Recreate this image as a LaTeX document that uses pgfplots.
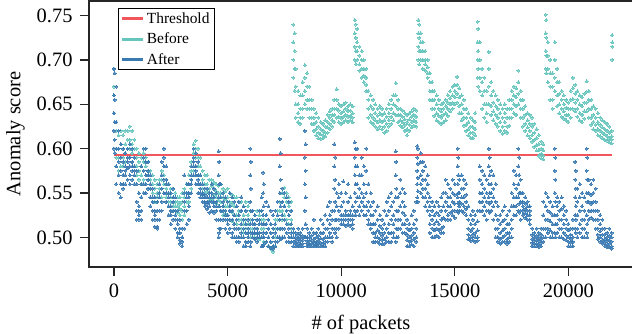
\documentclass[border=0pt]{standalone}
\usepackage{pgfplots}
\pgfplotsset{compat=1.18}
\usepackage{pgfplotstable}
\usepackage{fontspec}
\setmainfont{Liberation Serif}
\definecolor{thr}{HTML}{F0565C}
\definecolor{bef}{HTML}{66C5BD}
\definecolor{aft}{HTML}{3A7AB3}
\definecolor{spine}{HTML}{262626}

\pgfplotstableread{
x a b c d
0 0.69 0.67 0.66 0.64
100 0.62 0.60 0.59 0.58
200 0.615 0.60 0.59 0.575
300 0.62 0.605 0.59 0.58
400 0.615 0.60 0.59 0.58
500 0.62 0.605 0.595 0.585
600 0.62 0.61 0.60 0.59
700 0.625 0.61 0.60 0.59
800 0.62 0.605 0.595 0.585
900 0.61 0.60 0.59 0.58
1000 0.60 0.59 0.58 0.57
1100 0.595 0.585 0.575 0.565
1200 0.59 0.58 0.57 0.56
1300 0.595 0.585 0.575 0.565
1400 0.60 0.59 0.58 0.57
1500 0.585 0.575 0.565 0.555
1600 0.575 0.565 0.555 0.545
1700 0.57 0.56 0.55 0.54
1800 0.565 0.555 0.545 0.54
1900 0.56 0.55 0.545 0.54
2000 0.565 0.555 0.55 0.545
2100 0.575 0.565 0.555 0.545
2200 0.58 0.57 0.56 0.55
2300 0.565 0.555 0.545 0.54
2400 0.56 0.55 0.54 0.535
2500 0.555 0.545 0.54 0.53
2600 0.555 0.545 0.535 0.53
2700 0.55 0.54 0.535 0.53
2800 0.545 0.54 0.535 0.528
2900 0.545 0.538 0.532 0.525
3000 0.55 0.54 0.53 0.52
3100 0.555 0.545 0.535 0.525
3200 0.56 0.55 0.54 0.53
3300 0.57 0.56 0.55 0.54
3400 0.585 0.575 0.565 0.555
3500 0.605 0.595 0.585 0.575
3600 0.609 0.60 0.59 0.58
3700 0.60 0.59 0.58 0.57
3800 0.59 0.58 0.57 0.56
3900 0.575 0.565 0.555 0.545
4000 0.57 0.56 0.55 0.545
4100 0.57 0.56 0.552 0.545
4200 0.565 0.555 0.55 0.542
4300 0.565 0.558 0.55 0.543
4400 0.562 0.555 0.548 0.54
4500 0.56 0.552 0.545 0.538
4600 0.558 0.55 0.542 0.535
4700 0.56 0.55 0.54 0.53
4800 0.555 0.545 0.535 0.525
4900 0.552 0.543 0.535 0.527
5000 0.555 0.545 0.535 0.525
5100 0.55 0.54 0.53 0.52
5200 0.548 0.538 0.528 0.518
5300 0.545 0.535 0.525 0.515
5400 0.545 0.535 0.525 0.515
5500 0.54 0.53 0.52 0.51
5600 0.54 0.53 0.52 0.51
5700 0.535 0.525 0.515 0.505
5800 0.54 0.53 0.52 0.51
5900 0.535 0.525 0.515 0.505
6000 0.53 0.52 0.51 0.50
6100 0.53 0.52 0.51 0.50
6200 0.525 0.515 0.505 0.50
6300 0.53 0.52 0.51 0.50
6400 0.525 0.515 0.505 0.498
6500 0.53 0.52 0.51 0.50
6600 0.52 0.51 0.50 0.495
6700 0.525 0.515 0.505 0.495
6800 0.52 0.51 0.50 0.49
6900 0.515 0.505 0.495 0.487
7000 0.51 0.50 0.49 0.484
7100 0.52 0.51 0.50 0.49
7200 0.53 0.52 0.51 0.50
7300 0.54 0.53 0.52 0.51
7400 0.55 0.54 0.53 0.52
7500 0.556 0.545 0.535 0.525
7600 0.55 0.54 0.53 0.52
7700 0.545 0.535 0.525 0.515
7800 0.54 0.53 0.52 0.51
7900 0.74 0.72 0.70 0.68
7950 0.73 0.71 0.69 0.665
8000 0.69 0.67 0.65 0.635
8100 0.665 0.65 0.64 0.63
8200 0.66 0.645 0.635 0.628
8300 0.675 0.66 0.645 0.635
8400 0.694 0.68 0.665 0.65
8500 0.685 0.67 0.655 0.645
8600 0.67 0.655 0.645 0.635
8700 0.655 0.645 0.635 0.628
8800 0.645 0.635 0.628 0.62
8900 0.64 0.63 0.622 0.615
9000 0.635 0.625 0.618 0.612
9100 0.63 0.622 0.616 0.611
9200 0.628 0.62 0.615 0.612
9300 0.632 0.625 0.618 0.614
9400 0.638 0.63 0.624 0.618
9500 0.642 0.635 0.628 0.622
9600 0.645 0.638 0.632 0.625
9700 0.655 0.645 0.638 0.63
9800 0.667 0.655 0.645 0.635
9900 0.65 0.643 0.636 0.63
10000 0.648 0.64 0.634 0.628
10100 0.65 0.642 0.636 0.63
10200 0.652 0.645 0.638 0.632
10300 0.648 0.642 0.636 0.63
10400 0.65 0.643 0.637 0.632
10500 0.648 0.64 0.635 0.63
10600 0.745 0.73 0.715 0.70
10650 0.74 0.725 0.71 0.695
10700 0.735 0.72 0.71 0.70
10800 0.715 0.705 0.695 0.688
10900 0.71 0.70 0.69 0.68
11000 0.70 0.69 0.682 0.675
11100 0.69 0.68 0.672 0.665
11200 0.665 0.655 0.645 0.635
11300 0.66 0.648 0.638 0.63
11400 0.655 0.645 0.635 0.628
11500 0.65 0.64 0.632 0.625
11600 0.645 0.637 0.63 0.622
11700 0.648 0.64 0.632 0.625
11800 0.645 0.638 0.63 0.622
11900 0.64 0.632 0.625 0.618
12000 0.645 0.636 0.628 0.62
12100 0.65 0.64 0.632 0.625
12200 0.655 0.645 0.636 0.628
12300 0.66 0.65 0.64 0.632
12400 0.674 0.66 0.648 0.638
12500 0.655 0.645 0.638 0.63
12600 0.645 0.638 0.632 0.626
12700 0.643 0.636 0.63 0.624
12800 0.64 0.633 0.627 0.62
12900 0.638 0.63 0.622 0.615
13000 0.64 0.633 0.627 0.62
13100 0.642 0.636 0.63 0.624
13200 0.645 0.638 0.632 0.626
13300 0.643 0.636 0.63 0.625
13400 0.745 0.73 0.715 0.70
13430 0.74 0.725 0.71 0.695
13500 0.73 0.72 0.71 0.70
13600 0.72 0.71 0.70 0.69
13700 0.71 0.70 0.695 0.688
13800 0.70 0.692 0.685 0.68
13900 0.685 0.675 0.665 0.655
14000 0.675 0.665 0.655 0.645
14100 0.665 0.655 0.645 0.637
14200 0.66 0.65 0.64 0.632
14300 0.655 0.645 0.637 0.63
14400 0.65 0.642 0.635 0.628
14500 0.652 0.645 0.638 0.63
14600 0.655 0.648 0.64 0.632
14700 0.66 0.652 0.645 0.637
14800 0.665 0.657 0.65 0.642
14900 0.67 0.66 0.652 0.645
15000 0.672 0.665 0.658 0.65
15100 0.681 0.672 0.662 0.652
15200 0.668 0.658 0.648 0.64
15300 0.66 0.65 0.64 0.632
15400 0.655 0.645 0.635 0.626
15500 0.645 0.635 0.627 0.62
15600 0.64 0.63 0.622 0.615
15700 0.635 0.625 0.618 0.612
15800 0.632 0.624 0.618 0.612
15900 0.64 0.63 0.622 0.615
16000 0.743 0.72 0.70 0.68
16030 0.735 0.71 0.69 0.67
16100 0.72 0.70 0.68 0.665
16200 0.69 0.675 0.66 0.645
16300 0.68 0.665 0.65 0.635
16400 0.665 0.65 0.64 0.63
16500 0.709 0.69 0.67 0.65
16600 0.675 0.66 0.648 0.638
16700 0.665 0.652 0.642 0.632
16800 0.66 0.648 0.638 0.628
16900 0.655 0.645 0.635 0.625
17000 0.65 0.64 0.63 0.62
17100 0.645 0.635 0.625 0.617
17200 0.65 0.64 0.63 0.62
17300 0.645 0.635 0.625 0.618
17400 0.655 0.645 0.635 0.626
17500 0.665 0.655 0.645 0.635
17600 0.67 0.66 0.65 0.64
17700 0.668 0.658 0.648 0.638
17800 0.688 0.675 0.662 0.65
17900 0.665 0.655 0.645 0.635
18000 0.655 0.645 0.635 0.625
18100 0.648 0.638 0.628 0.62
18200 0.64 0.632 0.624 0.615
18300 0.638 0.628 0.62 0.612
18400 0.635 0.625 0.615 0.608
18500 0.628 0.618 0.61 0.602
18600 0.622 0.612 0.604 0.598
18700 0.615 0.605 0.598 0.592
18800 0.608 0.60 0.594 0.589
18900 0.605 0.598 0.592 0.588
19000 0.751 0.73 0.71 0.69
19030 0.745 0.725 0.705 0.685
19100 0.72 0.705 0.69 0.675
19200 0.70 0.685 0.67 0.655
19300 0.685 0.67 0.655 0.645
19400 0.72 0.70 0.68 0.665
19500 0.69 0.675 0.66 0.648
19600 0.675 0.662 0.65 0.64
19700 0.665 0.655 0.645 0.636
19800 0.66 0.65 0.642 0.634
19900 0.655 0.646 0.638 0.632
20000 0.652 0.645 0.638 0.63
20100 0.665 0.655 0.645 0.635
20200 0.68 0.668 0.656 0.645
20300 0.672 0.662 0.652 0.642
20400 0.665 0.655 0.645 0.636
20500 0.66 0.65 0.64 0.632
20600 0.658 0.648 0.638 0.63
20700 0.662 0.652 0.642 0.634
20800 0.676 0.664 0.652 0.642
20900 0.665 0.655 0.645 0.635
21000 0.655 0.645 0.635 0.627
21100 0.648 0.638 0.63 0.622
21200 0.645 0.635 0.627 0.62
21300 0.64 0.63 0.622 0.615
21400 0.635 0.627 0.62 0.614
21500 0.632 0.624 0.618 0.612
21600 0.63 0.622 0.616 0.61
21700 0.628 0.62 0.614 0.609
21800 0.625 0.618 0.612 0.607
21900 0.62 0.614 0.61 0.606
21930 0.728 0.72 0.715 0.70
}\beforetab

\pgfplotstableread{
x a b c d e
0 0.69 0.66 0.64 0.62 0.60
30 0.685 0.655 0.63 0.61 0.595
100 0.67 0.63 0.60 0.58 0.56
200 0.62 0.60 0.585 0.57 0.55
300 0.605 0.59 0.575 0.56 0.545
400 0.60 0.585 0.57 0.555 0.56
500 0.595 0.58 0.57 0.56 0.575
600 0.60 0.59 0.578 0.565 0.585
700 0.605 0.59 0.58 0.57 0.56
800 0.60 0.585 0.575 0.565 0.58
900 0.59 0.58 0.57 0.56 0.575
1000 0.575 0.56 0.54 0.53 0.52
1100 0.55 0.535 0.525 0.52 0.53
1200 0.58 0.56 0.545 0.53 0.52
1300 0.60 0.59 0.575 0.56 0.55
1400 0.60 0.585 0.57 0.56 0.55
1500 0.585 0.575 0.565 0.555 0.57
1600 0.57 0.555 0.545 0.535 0.56
1700 0.555 0.54 0.53 0.52 0.545
1800 0.545 0.53 0.52 0.512 0.525
1900 0.53 0.52 0.512 0.51 0.54
2000 0.56 0.545 0.53 0.52 0.55
2100 0.585 0.57 0.555 0.54 0.53
2200 0.60 0.59 0.58 0.565 0.55
2300 0.58 0.565 0.55 0.54 0.56
2400 0.56 0.545 0.535 0.525 0.55
2500 0.55 0.535 0.525 0.515 0.53
2600 0.555 0.54 0.53 0.52 0.545
2700 0.545 0.53 0.52 0.51 0.525
2800 0.53 0.515 0.505 0.50 0.52
2900 0.52 0.505 0.497 0.493 0.51
3000 0.51 0.50 0.495 0.49 0.50
3100 0.57 0.55 0.53 0.51 0.54
3200 0.56 0.545 0.53 0.515 0.55
3300 0.56 0.545 0.535 0.52 0.55
3400 0.58 0.57 0.56 0.55 0.565
3500 0.60 0.59 0.58 0.57 0.585
3600 0.595 0.58 0.57 0.56 0.575
3700 0.585 0.57 0.56 0.55 0.565
3800 0.57 0.56 0.55 0.545 0.555
3900 0.56 0.55 0.545 0.54 0.548
4000 0.555 0.548 0.54 0.535 0.545
4100 0.555 0.545 0.538 0.532 0.54
4200 0.55 0.54 0.535 0.528 0.545
4300 0.56 0.55 0.54 0.53 0.545
4400 0.555 0.545 0.535 0.528 0.54
4500 0.55 0.54 0.53 0.52 0.535
4600 0.597 0.57 0.545 0.52 0.50
4630 0.585 0.56 0.535 0.51 0.505
4700 0.56 0.545 0.53 0.52 0.51
4800 0.55 0.54 0.53 0.52 0.535
4900 0.545 0.53 0.52 0.51 0.525
5000 0.54 0.525 0.515 0.505 0.52
5100 0.55 0.535 0.52 0.51 0.53
5200 0.545 0.53 0.52 0.505 0.50
5300 0.54 0.525 0.515 0.50 0.51
5400 0.535 0.52 0.51 0.50 0.495
5500 0.54 0.525 0.51 0.50 0.495
5600 0.545 0.53 0.515 0.505 0.50
5700 0.535 0.52 0.51 0.50 0.49
5800 0.53 0.515 0.505 0.495 0.49
5900 0.52 0.51 0.50 0.495 0.505
6000 0.60 0.57 0.54 0.515 0.49
6030 0.585 0.555 0.53 0.505 0.495
6100 0.53 0.515 0.505 0.50 0.52
6200 0.525 0.515 0.505 0.498 0.51
6300 0.52 0.51 0.50 0.495 0.505
6400 0.53 0.515 0.505 0.50 0.52
6500 0.545 0.53 0.515 0.50 0.49
6560 0.573 0.55 0.525 0.505 0.49
6590 0.56 0.535 0.515 0.50 0.492
6700 0.54 0.525 0.515 0.505 0.495
6800 0.535 0.52 0.51 0.50 0.49
6900 0.53 0.515 0.505 0.495 0.488
7000 0.525 0.51 0.50 0.49 0.487
7100 0.53 0.515 0.505 0.495 0.49
7200 0.54 0.525 0.51 0.50 0.495
7300 0.611 0.58 0.55 0.52 0.50
7330 0.595 0.565 0.535 0.51 0.498
7400 0.555 0.54 0.525 0.51 0.50
7500 0.55 0.535 0.52 0.51 0.50
7600 0.545 0.53 0.515 0.505 0.495
7700 0.54 0.525 0.51 0.50 0.495
7800 0.53 0.515 0.505 0.50 0.495
7900 0.51 0.505 0.50 0.495 0.49
8000 0.505 0.50 0.497 0.493 0.49
8100 0.51 0.503 0.498 0.494 0.49
8200 0.505 0.50 0.496 0.492 0.49
8300 0.51 0.502 0.497 0.493 0.49
8400 0.62 0.59 0.56 0.53 0.50
8430 0.605 0.575 0.545 0.515 0.50
8500 0.51 0.50 0.496 0.493 0.49
8600 0.505 0.50 0.496 0.492 0.49
8700 0.51 0.502 0.497 0.493 0.49
8800 0.52 0.505 0.498 0.494 0.49
8900 0.505 0.50 0.495 0.492 0.49
9000 0.51 0.502 0.497 0.493 0.49
9100 0.52 0.505 0.499 0.494 0.49
9200 0.515 0.505 0.498 0.493 0.49
9300 0.525 0.51 0.50 0.495 0.49
9400 0.535 0.52 0.51 0.50 0.495
9500 0.54 0.525 0.515 0.505 0.50
9600 0.53 0.52 0.51 0.50 0.495
9700 0.605 0.58 0.555 0.53 0.51
9730 0.59 0.565 0.54 0.52 0.505
9800 0.55 0.535 0.52 0.51 0.50
9900 0.56 0.545 0.53 0.52 0.51
10000 0.55 0.535 0.525 0.515 0.52
10100 0.563 0.54 0.525 0.515 0.52
10200 0.55 0.53 0.52 0.513 0.525
10300 0.56 0.54 0.525 0.515 0.52
10400 0.545 0.53 0.52 0.513 0.525
10500 0.535 0.525 0.515 0.51 0.52
10600 0.607 0.59 0.57 0.55 0.53
10630 0.60 0.58 0.56 0.54 0.525
10700 0.60 0.58 0.56 0.545 0.53
10800 0.57 0.555 0.545 0.535 0.525
10900 0.59 0.57 0.55 0.54 0.53
11000 0.58 0.56 0.545 0.535 0.525
11100 0.60 0.575 0.55 0.535 0.525
11200 0.56 0.54 0.53 0.52 0.515
11300 0.55 0.535 0.525 0.515 0.51
11400 0.54 0.525 0.515 0.505 0.495
11500 0.53 0.515 0.505 0.50 0.495
11600 0.535 0.52 0.508 0.50 0.495
11700 0.525 0.513 0.505 0.498 0.493
11800 0.52 0.51 0.502 0.497 0.492
11900 0.53 0.515 0.505 0.498 0.493
12000 0.54 0.525 0.51 0.50 0.495
12100 0.545 0.53 0.515 0.505 0.495
12200 0.55 0.535 0.52 0.505 0.495
12300 0.54 0.525 0.515 0.505 0.50
12400 0.597 0.57 0.545 0.52 0.495
12430 0.585 0.555 0.53 0.51 0.50
12500 0.545 0.53 0.52 0.51 0.50
12600 0.565 0.55 0.535 0.52 0.51
12700 0.555 0.54 0.528 0.515 0.505
12800 0.55 0.535 0.525 0.515 0.505
12900 0.52 0.51 0.503 0.497 0.49
13000 0.515 0.508 0.50 0.495 0.49
13100 0.525 0.51 0.502 0.497 0.492
13200 0.53 0.515 0.505 0.498 0.49
13300 0.54 0.52 0.51 0.50 0.495
13350 0.603 0.59 0.575 0.56 0.545
13380 0.60 0.583 0.567 0.552 0.54
13500 0.595 0.585 0.57 0.56 0.55
13600 0.585 0.575 0.565 0.555 0.545
13700 0.58 0.565 0.555 0.545 0.535
13800 0.57 0.56 0.55 0.54 0.53
13900 0.545 0.535 0.525 0.515 0.505
14000 0.54 0.53 0.52 0.51 0.50
14100 0.535 0.525 0.515 0.508 0.50
14200 0.54 0.528 0.518 0.51 0.502
14300 0.535 0.525 0.515 0.508 0.50
14400 0.545 0.53 0.52 0.51 0.505
14500 0.55 0.535 0.522 0.512 0.505
14600 0.565 0.55 0.54 0.53 0.52
14700 0.56 0.545 0.535 0.525 0.52
14800 0.555 0.545 0.535 0.528 0.52
14900 0.565 0.55 0.54 0.53 0.525
15000 0.56 0.548 0.538 0.53 0.522
15130 0.60 0.58 0.56 0.545 0.53
15160 0.59 0.57 0.55 0.538 0.528
15200 0.565 0.55 0.54 0.535 0.53
15300 0.57 0.555 0.545 0.538 0.53
15400 0.565 0.555 0.545 0.535 0.528
15500 0.56 0.548 0.54 0.532 0.525
15600 0.535 0.52 0.51 0.503 0.498
15700 0.525 0.515 0.507 0.50 0.496
15800 0.53 0.52 0.51 0.503 0.497
15900 0.525 0.515 0.505 0.50 0.495
16000 0.53 0.518 0.508 0.50 0.496
16100 0.58 0.565 0.55 0.54 0.53
16200 0.575 0.56 0.55 0.54 0.53
16300 0.57 0.555 0.545 0.535 0.525
16400 0.565 0.55 0.54 0.53 0.52
16500 0.60 0.58 0.56 0.545 0.53
16530 0.59 0.57 0.55 0.538 0.528
16600 0.575 0.56 0.55 0.54 0.53
16700 0.57 0.555 0.545 0.535 0.52
16800 0.56 0.54 0.525 0.51 0.50
16900 0.535 0.52 0.51 0.50 0.495
17000 0.525 0.515 0.505 0.498 0.493
17100 0.53 0.518 0.508 0.50 0.495
17200 0.535 0.52 0.51 0.502 0.495
17300 0.525 0.515 0.505 0.498 0.493
17400 0.53 0.515 0.505 0.50 0.495
17500 0.55 0.535 0.52 0.51 0.50
17600 0.575 0.56 0.545 0.535 0.525
17700 0.57 0.555 0.545 0.535 0.525
17800 0.60 0.58 0.56 0.545 0.53
17830 0.59 0.57 0.55 0.538 0.528
17900 0.565 0.55 0.54 0.53 0.52
18000 0.55 0.54 0.535 0.53 0.525
18100 0.545 0.538 0.532 0.527 0.522
18200 0.54 0.535 0.53 0.525 0.52
18300 0.535 0.53 0.525 0.52 0.515
18400 0.51 0.503 0.498 0.494 0.49
18500 0.505 0.50 0.496 0.493 0.49
18600 0.51 0.502 0.497 0.493 0.49
18700 0.505 0.50 0.496 0.492 0.489
18800 0.51 0.503 0.498 0.494 0.49
18900 0.54 0.525 0.51 0.50 0.495
19000 0.55 0.535 0.52 0.51 0.50
19100 0.545 0.53 0.52 0.51 0.505
19200 0.54 0.528 0.518 0.508 0.50
19300 0.535 0.525 0.515 0.505 0.50
19400 0.60 0.575 0.55 0.525 0.505
19430 0.59 0.565 0.54 0.515 0.50
19500 0.545 0.535 0.525 0.515 0.505
19600 0.54 0.53 0.52 0.51 0.50
19700 0.545 0.532 0.52 0.51 0.50
19800 0.535 0.525 0.515 0.505 0.498
19900 0.53 0.52 0.51 0.502 0.497
20000 0.515 0.508 0.50 0.495 0.49
20100 0.51 0.503 0.498 0.494 0.49
20200 0.52 0.51 0.50 0.495 0.49
20300 0.585 0.565 0.545 0.525 0.51
20330 0.575 0.555 0.535 0.52 0.505
20400 0.555 0.54 0.525 0.51 0.50
20500 0.56 0.545 0.53 0.515 0.505
20600 0.55 0.535 0.52 0.51 0.50
20700 0.545 0.53 0.52 0.51 0.50
20800 0.60 0.575 0.55 0.525 0.505
20830 0.59 0.565 0.54 0.515 0.50
20900 0.565 0.55 0.54 0.53 0.52
21000 0.56 0.548 0.538 0.53 0.522
21100 0.565 0.55 0.54 0.53 0.52
21200 0.555 0.54 0.53 0.52 0.51
21300 0.53 0.52 0.51 0.503 0.498
21400 0.525 0.515 0.507 0.50 0.495
21500 0.52 0.51 0.503 0.497 0.493
21600 0.51 0.503 0.498 0.494 0.49
21700 0.505 0.50 0.496 0.492 0.489
21800 0.51 0.502 0.497 0.493 0.489
21900 0.505 0.50 0.495 0.49 0.487
}\aftertab

\begin{document}
\begin{tikzpicture}
\begin{axis}[
  at={(89bp,67bp)}, anchor=south west,
  scale only axis, width=544bp, height=266bp,
  xmin=-1100, xmax=22843, ymin=0.4666, ymax=0.7665,
  axis line style={spine, line width=1.4bp},
  tick pos=left, tick align=outside,
  major tick length=9bp,
  every tick/.style={spine, line width=1.2bp},
  xtick={0,5000,10000,15000,20000},
  ytick={0.50,0.55,0.60,0.65,0.70,0.75},
  scaled ticks=false,
  /pgf/number format/assume math mode=true,
  xticklabel style={/pgf/number format/1000 sep={}, yshift=-4bp},
  yticklabel style={xshift=-4bp, /pgf/number format/fixed, /pgf/number format/fixed zerofill, /pgf/number format/precision=2},
  tick label style={font=\fontsize{20.5}{24}\selectfont, text=black},
  label style={font=\fontsize{20.5}{24}\selectfont},
  xlabel={\# of packets},
  xlabel style={yshift=-11bp},
  ylabel={Anomaly score},
  ylabel style={yshift=5bp},
  legend cell align=left,
  legend image code/.code={\draw[#1, line width=3bp] (0bp,0bp) -- (21bp,0bp);},
  legend style={at={(0.0533,0.972)}, anchor=north west, draw=black, line width=0.8bp,
    font=\fontsize{15.5}{17}\selectfont, inner xsep=2.5bp, inner ysep=2bp, row sep=4bp},
]
\addlegendimage{thr}\addlegendentry{Threshold}
\addlegendimage{bef}\addlegendentry{Before}
\addlegendimage{aft}\addlegendentry{After}
\pgfplotsinvokeforeach{a,b,c,d}{
\addplot[only marks, mark=*, color=bef, mark size=1.5bp, mark options={fill=bef, draw=bef, line width=0pt, opacity=0.85}, forget plot] table[x=x, y=#1]{\beforetab};
}
\pgfplotsinvokeforeach{a,b,c,d,e}{
\addplot[only marks, mark=*, color=aft, mark size=1.5bp, mark options={fill=aft, draw=aft, line width=0pt, opacity=0.85}, forget plot] table[x=x, y=#1]{\aftertab};
}
\addplot[thr, line width=1.8bp, forget plot] coordinates {(0,0.593) (21940,0.593)};
\end{axis}
\pgfresetboundingbox
\useasboundingbox (0,0) rectangle (632bp,334bp);
\end{tikzpicture}
\end{document}
